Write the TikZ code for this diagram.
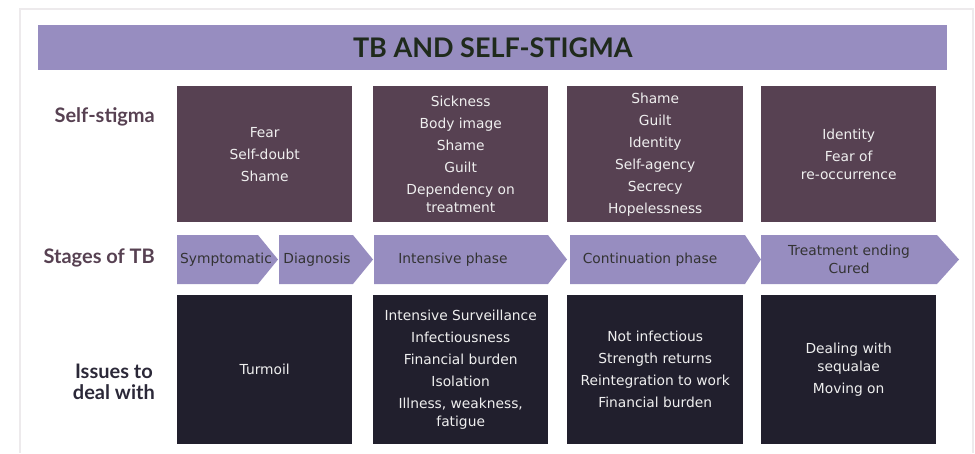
\documentclass[tikz,border=0pt]{standalone}
\usepackage{fontspec}
\setmainfont{DejaVu Sans}
\newfontfamily\labelfont{Lato}
\usetikzlibrary{positioning}

\definecolor{lavender}{HTML}{978DC0}
\definecolor{mauve}{HTML}{574152}
\definecolor{navy}{HTML}{211F2D}
\definecolor{titleink}{HTML}{1F2A1C}
\definecolor{issueink}{HTML}{2B2838}
\definecolor{stageink}{HTML}{333333}
\definecolor{boxink}{HTML}{EFEFEF}
\definecolor{framegray}{HTML}{EDEAEC}

\newcommand{\boxfont}{\fontsize{13.8}{18}\selectfont}

\begin{document}
\begin{tikzpicture}[x=1pt, y=-1pt,
    stigma/.style={fill=mauve, text=boxink, anchor=north west, minimum width=175pt,
        minimum height=136pt, inner sep=0pt, align=center, font=\boxfont},
    issue/.style={stigma, fill=navy, minimum height=149pt},
    rowlabel/.style={anchor=east, align=center, text=mauve, inner sep=0pt,
        font=\labelfont\bfseries\fontsize{20}{21}\selectfont},
    stagetext/.style={text=stageink, align=center, inner sep=0pt, font=\boxfont}]
    \useasboundingbox (0,0) rectangle (975,453);
    \draw[framegray, line width=2pt] (20,453) -- (20,9) -- (973,9) -- (973,453);

    % title
    \node[fill=lavender, anchor=north west, minimum width=909pt, minimum height=45pt,
        text=titleink, font=\labelfont\bfseries\fontsize{27}{30}\selectfont]
        (title) at (38,25) {TB AND SELF-STIGMA};

    % row labels
    \node[rowlabel] (lstigma) at (155,117) {Self-stigma};
    \node[rowlabel] (lstages) at (155,258) {Stages of TB};
    \node[rowlabel, text=issueink] (lissues) at (155,382) {Issues to\\deal with};

    % self-stigma
    \node[stigma] (s1) at (177,86) {Fear\\[4pt]Self-doubt\\[4pt]Shame};
    \node[stigma] (s2) at (373,86) {Sickness\\[4pt]Body image\\[4pt]Shame\\[4pt]Guilt\\[4pt]Dependency on\\treatment};
    \node[stigma, minimum width=176pt] (s3) at (567,86) {Shame\\[4pt]Guilt\\[4pt]Identity\\[4pt]Self-agency\\[4pt]Secrecy\\[4pt]Hopelessness};
    \node[stigma] (s4) at (761,86) {Identity\\[4pt]Fear of\\re-occurrence};

    % stages
    \foreach \xl/\xb/\xt in {177/258/278, 279/353/373, 374/548/567, 570/745/761, 761/937/959}
        \fill[lavender] (\xl,235) -- (\xb,235) -- (\xt,259.5) -- (\xb,284) -- (\xl,284) -- cycle;
    \node[stagetext] (symp) at (226,259.5) {Symptomatic};
    \node[stagetext] (diag) at (317,259.5) {Diagnosis};
    \node[stagetext] (inten) at (453,259.5) {Intensive phase};
    \node[stagetext] (contin) at (650,259.5) {Continuation phase};
    \node[stagetext] (ending) at (849,259.5) {Treatment ending\\Cured};

    % issues
    \node[issue] (i1) at (177,295) {Turmoil};
    \node[issue] (i2) at (373,295) {Intensive Surveillance\\[4pt]Infectiousness\\[4pt]Financial burden\\[4pt]Isolation\\[4pt]Illness, weakness,\\fatigue};
    \node[issue, minimum width=176pt] (i3) at (567,295) {Not infectious\\[4pt]Strength returns\\[4pt]Reintegration to work\\[4pt]Financial burden};
    \node[issue] (i4) at (761,295) {Dealing with\\sequalae\\[4pt]Moving on};
\end{tikzpicture}
\end{document}
